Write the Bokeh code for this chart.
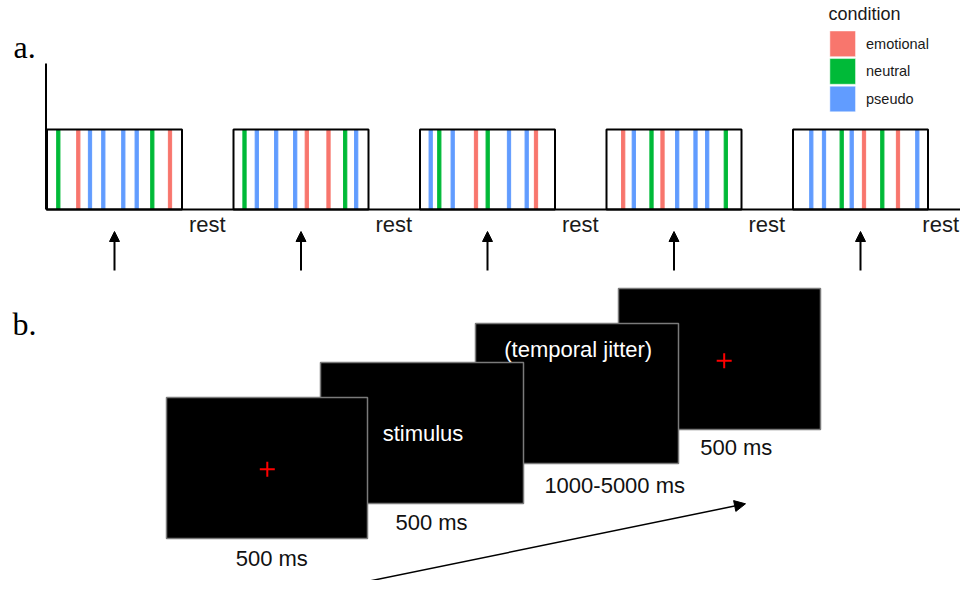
from bokeh.plotting import figure
from bokeh.models import Range1d, ColumnDataSource, Arrow, NormalHead
from bokeh.core.properties import value
from bokeh.embed import file_html
from bokeh.resources import INLINE

# ---------------- data: panel a (block design, arbitrary time units) ----------------
block_len = 27.0
rest_len = 10.3
n_blocks = 5
conditions = ["emotional", "neutral", "pseudo"]
cond_colors = ["#F8766D", "#00BA38", "#619CFF"]

block_onsets = [
    [2.26, 6.26, 8.6, 11.26, 15.26, 17.94, 21.06, 24.6],
    [2.2, 4.66, 8.54, 12.34, 14.66, 19.0, 22.34, 24.54],
    [2.14, 3.86, 6.54, 11.2, 13.54, 17.8, 21.34, 23.2],
    [3.34, 5.46, 9.0, 11.2, 14.14, 17.8, 20.14, 23.86],
    [3.66, 6.2, 9.74, 11.74, 14.2, 17.86, 21.0, 24.86],
]
block_conds = [
    ["neutral", "emotional", "pseudo", "pseudo", "pseudo", "pseudo", "neutral", "emotional"],
    ["neutral", "pseudo", "pseudo", "pseudo", "emotional", "emotional", "neutral", "pseudo"],
    ["pseudo", "neutral", "pseudo", "emotional", "neutral", "pseudo", "pseudo", "emotional"],
    ["emotional", "pseudo", "neutral", "emotional", "pseudo", "pseudo", "pseudo", "neutral"],
    ["pseudo", "pseudo", "neutral", "pseudo", "emotional", "neutral", "emotional", "pseudo"],
]
rest_label = "rest"

# ---------------- data: panel b (trial sequence) ----------------
screen_texts = ["+", "stimulus", "(temporal jitter)", "+"]
screen_durations = ["500 ms", "500 ms", "1000-5000 ms", "500 ms"]

# ---------------- figure (picture pixel coordinates) ----------------
W, H = 960, 580
p = figure(width=W, height=H, output_backend="svg", toolbar_location=None,
           x_range=Range1d(0, W), y_range=Range1d(H, 0),
           min_border=0, outline_line_color=None, background_fill_color="white")
p.xaxis.visible = False
p.yaxis.visible = False
p.grid.visible = False


def base(y, fs):
    # baseline position correction for rendered text
    return y - 0.37 * fs


# time range for panel a: t=0 at x=46.5px, 5 px per unit
px0, scale = 46.5, 5.0
t_start, t_end = (0 - px0) / scale, (W - px0) / scale
p.extra_x_ranges = {"time": Range1d(t_start, t_end)}

color_of = dict(zip(conditions, cond_colors))
block_starts = [i * (block_len + rest_len) for i in range(n_blocks)]

# stripes
sx, sc = [], []
for b, start in enumerate(block_starts):
    for t, c in zip(block_onsets[b], block_conds[b]):
        sx.append(start + t)
        sc.append(color_of[c])
stripe_src = ColumnDataSource(dict(x=sx, color=sc))
y_base, y_top = 209, 129
p.vbar(x="x", width=0.65, top=y_top, bottom=y_base, color="color", source=stripe_src,
       x_range_name="time")

# block outlines
blk_src = ColumnDataSource(dict(left=block_starts, right=[s + block_len for s in block_starts]))
p.quad(left="left", right="right", top=y_top, bottom=y_base, fill_color=None,
       line_color="black", line_width=2, source=blk_src, x_range_name="time")

# axis lines
p.segment(x0=[-0.2, -0.2], y0=[63, y_base], x1=[-0.2, t_end], y1=[y_base, y_base],
          line_color="black", line_width=2, x_range_name="time")

# rest labels (last one kept inside the canvas)
rest_x, rest_align, rest_off = [], [], []
for s in block_starts:
    e = s + block_len
    if e + (7 + 38) / scale > t_end:
        rest_x.append(t_end - 0.3)
        rest_align.append("right")
        rest_off.append(0)
    else:
        rest_x.append(e)
        rest_align.append("left")
        rest_off.append(7)
rest_src = ColumnDataSource(dict(x=rest_x, text=[rest_label] * n_blocks,
                                 align=rest_align, off=rest_off))
p.text(x="x", y=base(232, 22), text="text", source=rest_src, x_offset="off", x_range_name="time",
       text_font=value("Liberation Sans"), text_font_size="22px", text_color="#1a1a1a",
       text_align="align", text_baseline="alphabetic")

# arrows under block centers
arr_src = ColumnDataSource(dict(x=[s + block_len / 2 for s in block_starts]))
p.add_layout(Arrow(x_start="x", y_start=270, x_end="x", y_end=231, source=arr_src,
                   x_range_name="time", line_color="black", line_width=2,
                   end=NormalHead(size=10, fill_color="black", line_color="black", line_width=1)))

# legend
p.text(x=[828], y=[base(20, 18)], text=["condition"], text_font=value("Liberation Sans"),
       text_font_size="18px", text_color="#1a1a1a", text_baseline="alphabetic")
leg_y = [43.3 + 27.6 * i for i in range(len(conditions))]
p.rect(x=[842.2] * 3, y=leg_y, width=25.7, height=25.7, fill_color=cond_colors,
       line_color="white", line_width=0.5)
p.text(x=[865.5] * 3, y=[base(y + 5.2, 14.5) for y in leg_y], text=conditions,
       text_font=value("Liberation Sans"), text_font_size="14.5px", text_color="#1a1a1a",
       text_baseline="alphabetic")

# panel letters
p.text(x=[13, 12], y=[base(58, 32), base(335, 32)], text=["a.", "b."],
       text_font=value("Liberation Serif"),
       text_font_size="32px", text_color="black", text_baseline="alphabetic")

# ---------------- panel b screens ----------------
scr_left = [166, 320, 475, 618]
scr_right = [367, 523, 678, 820]
scr_top = [397, 362, 323, 288]
scr_bot = [538, 503, 463, 429]
order = [3, 2, 1, 0]
p.quad(left=[scr_left[i] for i in order], right=[scr_right[i] for i in order],
       top=[scr_top[i] for i in order], bottom=[scr_bot[i] for i in order],
       fill_color="black", line_color="#7a7a7a", line_width=1.5)

# screen contents
cross_x, cross_y = [], []
word_x, word_y, words = [], [], []
content_pos = [(266.8, 468.8), (422.5, 441), (577.7, 357), (723.7, 360.3)]
for (cx, cy), txt in zip(content_pos, screen_texts):
    if txt == "+":
        cross_x.append(cx)
        cross_y.append(cy)
    else:
        word_x.append(cx)
        word_y.append(base(cy, 22))
        words.append(txt)
p.scatter(x=cross_x, y=cross_y, marker="cross", size=15, line_color="red", line_width=2)
p.text(x=word_x, y=word_y, text=words, text_font=value("Liberation Sans"),
       text_font_size="22px", text_color="white", text_align="center",
       text_baseline="alphabetic")

# durations
dur_x = [271.3, 431, 614.2, 735.8]
dur_y = [566, 530, 493.3, 455]
p.text(x=dur_x, y=[base(y, 22) for y in dur_y], text=screen_durations,
       text_font=value("Liberation Sans"),
       text_font_size="22px", text_color="#111111", text_align="center",
       text_baseline="alphabetic")

# time arrow
p.add_layout(Arrow(x_start=306.7, y_start=593.3, x_end=745, y_end=503.3,
                   line_color="black", line_width=1.5,
                   end=NormalHead(size=11, fill_color="black", line_color="black", line_width=1)))

open("out.html", "w").write(file_html(p, INLINE))
